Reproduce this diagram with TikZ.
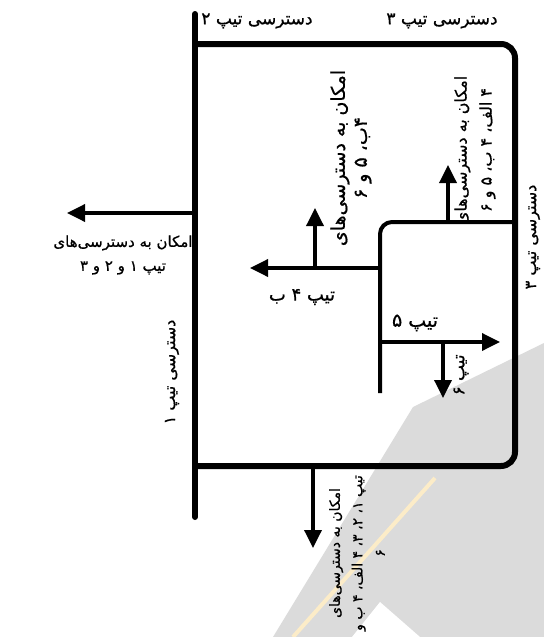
\documentclass[tikz,border=0pt]{standalone}
\usepackage{fontspec}
\newfontfamily\farsi[Script=Arabic, FakeBold=0.8]{DejaVu Sans}
\TeXXeTstate=1
\usetikzlibrary{arrows.meta}
\newcommand{\fatext}[1]{\beginR#1\endR}

\begin{document}
\begin{tikzpicture}[x=0.5pt,y=-0.5pt,
	frame/.style={line width=3pt, line cap=round},
	innerframe/.style={line width=2pt},
	way/.style={line width=1.75pt, -{Triangle[length=9pt,width=8.5pt]}},
	fa/.style 2 args={font=\farsi\fontsize{#1}{#2}\selectfont, inner sep=0pt, align=center}]
	\useasboundingbox (0,0) rectangle (544,637);
	
	\fill[black!14] (273,637) -- (413,407) -- (544,343) -- (544,637) -- cycle;
	\fill[white] (380,602) -- (420,637) -- (352,637) -- cycle;
	\draw[line width=2pt, color={rgb,255:red,252;green,236;blue,200}] (435,478) -- (293,637);
	
	\coordinate (barTop) at (195,14);
	\coordinate (barEnd) at (195,517);
	\coordinate (frameNW) at (195,44);
	\coordinate (frameNE) at (515,44);
	\coordinate (frameSE) at (515,466);
	\coordinate (frameSW) at (195,466);
	\draw[frame] (barTop) -- (barEnd);
	\draw[frame, rounded corners=7pt] (frameNW) -- (frameNE) -- (frameSE) -- (frameSW);
	
	\coordinate (innerS) at (380,393);
	\coordinate (innerNW) at (380,222);
	\coordinate (innerE) at (515,222);
	\draw[innerframe, rounded corners=6pt] (innerS) -- (innerNW) -- (innerE);
	
	\coordinate (outLeft) at (195,213); \coordinate (outLeftTip) at (67,213);
	\draw[way] (outLeft) -- (outLeftTip);
	\coordinate (fourB) at (380,268); \coordinate (fourBTip) at (250,268);
	\draw[way] (fourB) -- (fourBTip);
	\coordinate (fourBUp) at (315,268); \coordinate (fourBUpTip) at (315,208);
	\draw[way] (fourBUp) -- (fourBUpTip);
	\coordinate (fourAUp) at (448,222); \coordinate (fourAUpTip) at (448,165);
	\draw[way] (fourAUp) -- (fourAUpTip);
	\coordinate (five) at (380,342); \coordinate (fiveTip) at (500,342);
	\draw[way] (five) -- (fiveTip);
	\coordinate (six) at (443,342); \coordinate (sixTip) at (443,398);
	\draw[way] (six) -- (sixTip);
	\coordinate (oneDown) at (313,466); \coordinate (oneDownTip) at (313,548);
	\draw[way] (oneDown) -- (oneDownTip);
	
	\node[fa={8.5}{10}] (accTwo) at (257,21) {\fatext{دسترسی تیپ ۲}};
	\node[fa={8.5}{10}] (accThree) at (442,21) {\fatext{دسترسی تیپ ۳}};
	\node[fa={8}{10}, rotate=90] (accOne) at (172,372) {\fatext{دسترسی تیپ ۱}};
	\node[fa={8}{10}, rotate=90] (accThreeSide) at (533,237) {\fatext{دسترسی تیپ ۳}};
	\node[fa={7.5}{12}] (leftNote) at (123,255) {\fatext{امکان به دسترسی‌های}\\\fatext{تیپ ۱ و ۲ و ۳}};
	\node[fa={9}{10}] (fourBLabel) at (302,297) {\fatext{تیپ ۴ ب}};
	\node[fa={9.5}{11}, rotate=90] (midNote) at (351,158) {\fatext{امکان به دسترسی‌های}\\\fatext{۴ب، ۵ و ۶}};
	\node[fa={8}{12.5}, rotate=90] (rightNote) at (475,150) {\fatext{امکان به دسترسی‌های}\\\fatext{۴ الف، ۴ ب، ۵ و ۶}};
	\node[fa={9.5}{10}] (fiveLabel) at (415,323) {\fatext{تیپ ۵}};
	\node[fa={8.5}{10}, rotate=90] (sixLabel) at (461,375) {\fatext{تیپ ۶}};
	\node[fa={7}{11.25}, rotate=90] (bottomNote) at (357,553) {\fatext{امکان به دسترسی‌های}\\\fatext{تیپ ۱، ۲، ۳، ۴ الف، ۴ ب و}\\\fatext{۶}};
\end{tikzpicture}
\end{document}
